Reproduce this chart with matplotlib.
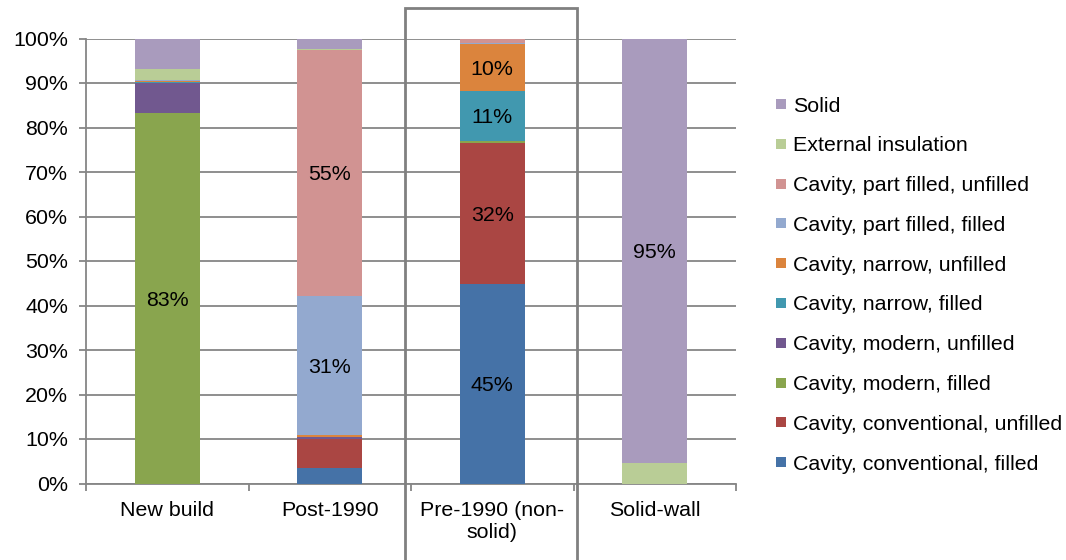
import matplotlib
matplotlib.use("Agg")
import matplotlib.pyplot as plt
from matplotlib.patches import Rectangle
import numpy as np

plt.rcParams['font.family'] = ['Liberation Sans', 'DejaVu Sans']

categories = ["New build", "Post-1990", "Pre-1990 (non-\nsolid)", "Solid-wall"]

series_names = [
    "Cavity, conventional, filled",
    "Cavity, conventional, unfilled",
    "Cavity, modern, filled",
    "Cavity, modern, unfilled",
    "Cavity, narrow, filled",
    "Cavity, narrow, unfilled",
    "Cavity, part filled, filled",
    "Cavity, part filled, unfilled",
    "External insulation",
    "Solid",
]

# share of dwellings (%) per category, one list per wall type
conv_filled = [0.0, 3.4, 44.8, 0.0]
conv_unfilled = [0.0, 6.5, 31.7, 0.0]
modern_filled = [83.3, 0.2, 0.4, 0.0]
modern_unfilled = [6.8, 0.3, 0.1, 0.0]
narrow_filled = [0.2, 0.1, 11.3, 0.0]
narrow_unfilled = [0.2, 0.4, 10.4, 0.0]
part_filled = [0.1, 31.3, 0.3, 0.0]
part_unfilled = [0.1, 55.2, 1.0, 0.0]
external = [2.5, 0.3, 0.0, 4.6]
solid = [6.8, 2.3, 0.0, 95.4]

series_values = [conv_filled, conv_unfilled, modern_filled, modern_unfilled,
                 narrow_filled, narrow_unfilled, part_filled, part_unfilled,
                 external, solid]

colors = ["#4572A7", "#AA4643", "#89A54E", "#71588F", "#4198AF",
          "#DB843D", "#93A9CF", "#D19392", "#B9CD96", "#A99BBD"]

W, H = 1066, 560
fig = plt.figure(figsize=(W / 100, H / 100), dpi=100)
ax = fig.add_axes([86 / W, 1 - 483.5 / H, 650 / W, 445 / H])

grid_c = "#868686"
fs = 15.4
x = np.arange(len(categories))
bottom = np.zeros(len(categories))
for name, vals, col in zip(series_names, series_values, colors):
    vals = np.array(vals, dtype=float)
    ax.bar(x, vals, width=0.4, bottom=bottom, color=col, linewidth=0, zorder=3)
    for xi, v, b in zip(x, vals, bottom):
        if v >= 9.5:
            ax.text(xi, b + v / 2, f"{v:.0f}%", ha="center", va="center_baseline",
                    fontsize=fs, color="black", zorder=4)
    bottom += vals

ax.set_xlim(-0.5, len(categories) - 0.5)
ax.set_ylim(0, 100)
ax.set_yticks(np.arange(0, 101, 10))
ax.set_yticklabels([f"{v}%" for v in range(0, 101, 10)], fontsize=fs)
ax.yaxis.grid(True, color=grid_c, linewidth=1.3, zorder=0)
ax.set_axisbelow(True)

ax.set_xticks(x)
ax.set_xticklabels(categories, fontsize=fs, linespacing=1.2)
ax.set_xticks(np.arange(-0.5, len(categories), 1.0), minor=True)
ax.tick_params(axis="x", which="major", length=0, pad=12.5)
ax.tick_params(axis="x", which="minor", length=5, width=1.3, color=grid_c, direction="out")
ax.tick_params(axis="y", length=5, width=1.3, color=grid_c, direction="out", pad=8)

for s in ["top", "right"]:
    ax.spines[s].set_visible(False)
for s in ["left", "bottom"]:
    ax.spines[s].set_color(grid_c)
    ax.spines[s].set_linewidth(1.3)

# highlight frame around the pre-1990 column
fig.patches.append(Rectangle((405 / W, -0.01), 172 / W, 1 - 8 / H + 0.01,
                             transform=fig.transFigure, fill=False,
                             edgecolor="#808080", linewidth=2.0, zorder=10))

# legend, top entry is the last series
y0, dy = 104, 39.8
for i, (name, col) in enumerate(zip(series_names[::-1], colors[::-1])):
    yc = y0 + i * dy
    fig.patches.append(Rectangle((776 / W, 1 - (yc + 5) / H), 10 / W, 10 / H,
                                 transform=fig.transFigure, facecolor=col,
                                 edgecolor="none"))
    fig.text(793 / W, 1 - yc / H, name, ha="left", va="center_baseline", fontsize=fs)

fig.savefig("out.png", dpi=100)
